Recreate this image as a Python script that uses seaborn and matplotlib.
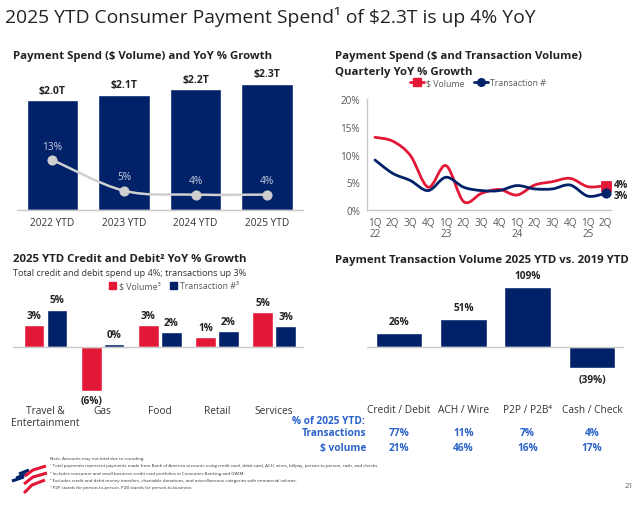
import numpy as np
import pandas as pd
import seaborn as sns
import matplotlib.pyplot as plt
from matplotlib.path import Path
from matplotlib.patches import PathPatch, Patch
from matplotlib.lines import Line2D
from matplotlib import transforms

# --- data -------------------------------------------------------------
ytd_years = ["2022 YTD", "2023 YTD", "2024 YTD", "2025 YTD"]
ytd_spend = [2.0, 2.1, 2.2, 2.3]            # $T
ytd_spend_labels = ["$2.0T", "$2.1T", "$2.2T", "$2.3T"]
ytd_growth = [13, 5, 4, 4]                  # YoY %

quarters = ["1Q\n22", "2Q", "3Q", "4Q", "1Q\n23", "2Q", "3Q", "4Q",
            "1Q\n24", "2Q", "3Q", "4Q", "1Q\n25", "2Q"]
q_volume = [13.1, 12.4, 9.8, 4.1, 8.0, 1.5, 3.0, 3.7, 2.7, 4.5, 5.1, 5.7, 4.2, 4.4]
q_trans = [9.0, 6.6, 5.3, 3.5, 5.9, 4.1, 3.5, 3.5, 4.4, 3.8, 3.8, 4.5, 2.5, 3.0]

cd_categories = ["Travel &\nEntertainment", "Gas", "Food", "Retail", "Services"]
cd_volume = [3.0, -6.1, 3.0, 1.4, 4.8]
cd_trans = [5.2, 0.4, 2.1, 2.2, 2.9]
cd_volume_labels = ["3%", "(6%)", "3%", "1%", "5%"]
cd_trans_labels = ["5%", "0%", "2%", "2%", "3%"]

pt_categories = ["Credit / Debit", "ACH / Wire", "P2P / P2B\u2074", "Cash / Check"]
pt_growth = [26, 51, 109, -39]
pt_labels = ["26%", "51%", "109%", "(39%)"]
share_transactions = ["77%", "11%", "7%", "4%"]
share_volume = ["21%", "46%", "16%", "17%"]

footnotes = [
    "Note: Amounts may not total due to rounding.",
    "\u00b9 Total payments represent payments made from Bank of America accounts using credit card, debit card, ACH, wires, billpay, person-to-person, cash, and checks.",
    "\u00b2 Includes consumer and small business credit card portfolios in Consumer Banking and GWIM.",
    "\u00b3 Excludes credit and debit money transfers, charitable donations, and miscellaneous categories with immaterial volume.",
    "\u2074 P2P stands for person-to-person. P2B stands for person-to-business.",
]

NAVY = "#012169"
RED = "#E31837"
DARK = "#222222"
GREY = "#595959"
AXIS = "#C8C8C8"
TBLUE = "#2A62C9"
TITLE_FS = 8.2

sns.set_theme(style="white")
plt.rcParams["font.family"] = ["Open Sans", "DejaVu Sans"]

W, H = 638, 506
fig = plt.figure(figsize=(W / 100, H / 100), dpi=100)


def rect(x0, y0, x1, y1):
    # pixel box (top-left origin) -> figure fraction
    return [x0 / W, 1 - y1 / H, (x1 - x0) / W, (y1 - y0) / H]


def ftxt(x, y, s, **kw):
    fig.text(x / W, 1 - y / H, s, **kw)


def smooth_line(ax, xs, ys, color, lw):
    # Excel-style smoothed line (Catmull-Rom as cubic Bezier)
    p = np.column_stack([xs, ys]).astype(float)
    pp = np.vstack([p[0], p, p[-1]])
    verts, codes = [p[0]], [Path.MOVETO]
    for i in range(1, len(pp) - 2):
        c1 = pp[i] + (pp[i + 1] - pp[i - 1]) / 6
        c2 = pp[i + 1] - (pp[i + 2] - pp[i]) / 6
        verts += [c1, c2, pp[i + 1]]
        codes += [Path.CURVE4] * 3
    ax.add_patch(PathPatch(Path(verts, codes), fill=False, ec=color, lw=lw,
                           capstyle="round", joinstyle="round"))


# --- slide title ------------------------------------------------------
ftxt(5, 17, "2025 YTD Consumer Payment Spend\u00b9 of $2.3T is up 4% YoY",
     fontsize=13.85, color=DARK, va="center", ha="left")

# --- panel 1: payment spend bars + growth line --------------------------
ftxt(13, 57, "Payment Spend ($ Volume) and YoY % Growth", fontsize=TITLE_FS,
     fontweight="bold", color=DARK, va="center")
ax1 = fig.add_axes(rect(16.7, 70, 303, 211))
sns.barplot(x=ytd_years, y=ytd_spend, color=NAVY, width=0.72, saturation=1, ax=ax1)
ax1.set_ylim(0, 141 / 55)
ax1.set_xlim(-0.5, 3.5)
for i, (v, lab) in enumerate(zip(ytd_spend, ytd_spend_labels)):
    ax1.annotate(lab, (i, v), xytext=(0, 3), textcoords="offset points",
                 ha="center", va="bottom", fontsize=7.5, fontweight="bold",
                 color=DARK)
ax1.set_yticks([])
ax1.tick_params(axis="x", length=0, pad=5, labelsize=7.3, labelcolor="#333333")
for s in ["top", "right", "left"]:
    ax1.spines[s].set_visible(False)
ax1.spines["bottom"].set_color(AXIS)
ax1.spines["bottom"].set_linewidth(1)

ax1b = ax1.twinx()
ax1b.set_ylim(0, 141 / 3.85)
smooth_line(ax1b, range(4), ytd_growth, "#D0D0D0", 1.8)
sns.scatterplot(x=range(4), y=ytd_growth, color="#D0D0D0", s=45,
                edgecolor="#D0D0D0", zorder=5, ax=ax1b, legend=False)
for i, g in enumerate(ytd_growth):
    ax1b.annotate(f"{g}%", (i, g), xytext=(0, 6), textcoords="offset points",
                  ha="center", va="bottom", fontsize=7.3, color="#C8CDE2")
ax1b.axis("off")

# --- panel 2: quarterly growth lines ----------------------------------
ftxt(335, 57, "Payment Spend ($ and Transaction Volume)", fontsize=TITLE_FS,
     fontweight="bold", color=DARK, va="center")
ftxt(335, 72, "Quarterly YoY % Growth", fontsize=TITLE_FS,
     fontweight="bold", color=DARK, va="center")
ax2 = fig.add_axes(rect(367, 100, 611, 211))
xq = np.arange(len(quarters))
smooth_line(ax2, xq, q_volume, RED, 2.0)
smooth_line(ax2, xq, q_trans, NAVY, 2.0)
sns.scatterplot(x=[xq[-1]], y=[q_volume[-1]], marker="s", color=RED, s=55,
                edgecolor=RED, zorder=5, ax=ax2, legend=False)
sns.scatterplot(x=[xq[-1]], y=[q_trans[-1]], marker="o", color=NAVY, s=45,
                edgecolor=NAVY, zorder=5, ax=ax2, legend=False)
ax2.annotate(f"{q_volume[-1]:.0f}%", (xq[-1], q_volume[-1]), xytext=(6, 1),
             textcoords="offset points", va="center", fontsize=7,
             fontweight="bold", color=DARK, annotation_clip=False)
ax2.annotate(f"{q_trans[-1]:.0f}%", (xq[-1], q_trans[-1]), xytext=(6, -1.5),
             textcoords="offset points", va="center", fontsize=7,
             fontweight="bold", color=DARK, annotation_clip=False)
ax2.set_xlim(-0.45, 13.3)
ax2.set_ylim(0, 20)
ax2.set_yticks([0, 5, 10, 15, 20])
ax2.set_yticklabels([f"{v}%" for v in [0, 5, 10, 15, 20]])
ax2.set_xticks(xq)
ax2.set_xticklabels(quarters, linespacing=1.05, va="top")
ax2.tick_params(length=0, labelsize=7.2, labelcolor=GREY)
ax2.tick_params(axis="y", pad=5)
ax2.tick_params(axis="x", pad=5)
for s in ["top", "right"]:
    ax2.spines[s].set_visible(False)
for s in ["left", "bottom"]:
    ax2.spines[s].set_color(AXIS)
    ax2.spines[s].set_linewidth(1)
handles2 = [Line2D([], [], color=RED, lw=2, marker="s", ms=5.5),
            Line2D([], [], color=NAVY, lw=2, marker="o", ms=5.5)]
fig.legend(handles2, ["$ Volume", "Transaction #"], loc="center",
           bbox_to_anchor=(478 / W, 1 - 84 / H), ncol=2, frameon=False,
           fontsize=6.3, handlelength=1.6, columnspacing=1.0, handletextpad=0.3,
           labelcolor=GREY)

# --- panel 3: credit and debit category growth -------------------------
ftxt(13, 260, "2025 YTD Credit and Debit\u00b2 YoY % Growth", fontsize=TITLE_FS,
     fontweight="bold", color=DARK, va="center")
ftxt(13, 273, "Total credit and debit spend up 4%; transactions up 3%",
     fontsize=6.6, color="#333333", va="center")
cd = pd.DataFrame({
    "category": cd_categories * 2,
    "value": cd_volume + cd_trans,
    "series": ["$ Volume"] * 5 + ["Transaction #"] * 5,
})
ax3 = fig.add_axes(rect(17, 290, 302.7, 402))
sns.barplot(data=cd, x="category", y="value", hue="series",
            palette=[RED, NAVY], width=0.8, gap=0.1, saturation=1,
            legend=False, ax=ax3)
ax3.set_ylim(-54 / 7.2, 58 / 7.2)
ax3.set_xlim(-0.5, 4.5)
ax3.axhline(0, color=AXIS, lw=1, xmin=-0.015, xmax=1, clip_on=False)
for i in range(5):
    for off, v, lab in [(-0.2, cd_volume[i], cd_volume_labels[i]),
                        (0.2, cd_trans[i], cd_trans_labels[i])]:
        ax3.annotate(lab, (i + off, v), xytext=(0, 3 if v >= 0 else -3),
                     textcoords="offset points", ha="center",
                     va="bottom" if v >= 0 else "top", fontsize=7.3,
                     fontweight="bold", color=DARK, annotation_clip=False)
ax3.set_yticks([])
ax3.set_xlabel("")
ax3.set_ylabel("")
ax3.tick_params(axis="x", length=0, pad=3, labelsize=7.3, labelcolor="#333333")
for lab in ax3.get_xticklabels():
    lab.set_linespacing(1.15)
for s in ax3.spines.values():
    s.set_visible(False)
handles3 = [Patch(color=RED), Patch(color=NAVY)]
fig.legend(handles3, ["$ Volume\u00b3", "Transaction #\u00b3"], loc="center",
           bbox_to_anchor=(174 / W, 1 - 287 / H), ncol=2, frameon=False,
           fontsize=6.3, handlelength=0.8, handleheight=0.8, columnspacing=1.0,
           handletextpad=0.4, labelcolor=GREY)

# --- panel 4: transaction volume vs 2019 --------------------------------
ftxt(335, 260, "Payment Transaction Volume 2025 YTD vs. 2019 YTD", fontsize=TITLE_FS,
     fontweight="bold", color=DARK, va="center")
ax4 = fig.add_axes(rect(366.8, 271, 624.2, 381))
sns.barplot(x=pt_categories, y=pt_growth, color=NAVY, width=0.725,
            saturation=1, ax=ax4)
ax4.set_ylim(-60, 140)
ax4.set_xlim(-0.5, 3.5)
ax4.axhline(0, color=AXIS, lw=1)
for i, (v, lab) in enumerate(zip(pt_growth, pt_labels)):
    ax4.annotate(lab, (i, v), xytext=(0, 4 if v >= 0 else -4),
                 textcoords="offset points", ha="center",
                 va="bottom" if v >= 0 else "top", fontsize=7.3,
                 fontweight="bold", color=DARK, annotation_clip=False)
ax4.set_xticks([])
ax4.set_yticks([])
for s in ax4.spines.values():
    s.set_visible(False)
tr = transforms.blended_transform_factory(ax4.transData, fig.transFigure)
for i, cat in enumerate(pt_categories):
    ax4.text(i, 1 - 411 / H, cat, transform=tr, ha="center", va="center",
             fontsize=7.3, color="#333333")
    ax4.text(i, 1 - 434 / H, share_transactions[i], transform=tr, ha="center",
             va="center", fontsize=7.3, fontweight="bold", color=TBLUE)
    ax4.text(i, 1 - 449 / H, share_volume[i], transform=tr, ha="center",
             va="center", fontsize=7.3, fontweight="bold", color=TBLUE)
ftxt(365, 422, "% of 2025 YTD:", fontsize=7.3, fontweight="bold", color=TBLUE,
     ha="right", va="center")
ftxt(366, 434, "Transactions", fontsize=7.3, fontweight="bold", color=TBLUE,
     ha="right", va="center")
ftxt(366, 449, "$ volume", fontsize=7.3, fontweight="bold", color=TBLUE,
     ha="right", va="center")

# --- footnotes, logo, page number --------------------------------------
for k, line in enumerate(footnotes):
    ftxt(50, 459 + k * 7.3, line, fontsize=3.14, color="#333333", va="center")
ftxt(633, 487, "21", fontsize=5.5, color=GREY, ha="right", va="center")

# flag logo drawn in slide pixel units
logo = fig.add_axes(rect(6, 462, 50, 498))
logo.set_xlim(6, 50)
logo.set_ylim(498, 462)
logo.axis("off")
navy_strokes = [[(19, 475), (29, 471)], [(16, 479), (27, 475)], [(12, 482), (24, 478)]]
red_strokes = [[(25, 477), (33, 471), (46, 467)],
               [(24, 485), (33, 478), (47, 474)],
               [(24, 494), (32, 486), (45, 481)]]
for pts in navy_strokes:
    xs, ys = zip(*pts)
    logo.plot(xs, ys, color=NAVY, lw=2.2, solid_capstyle="butt")
for pts in red_strokes:
    xs, ys = zip(*pts)
    logo.plot(xs, ys, color=RED, lw=2.2, solid_capstyle="butt")

fig.savefig("out.png", dpi=100)
